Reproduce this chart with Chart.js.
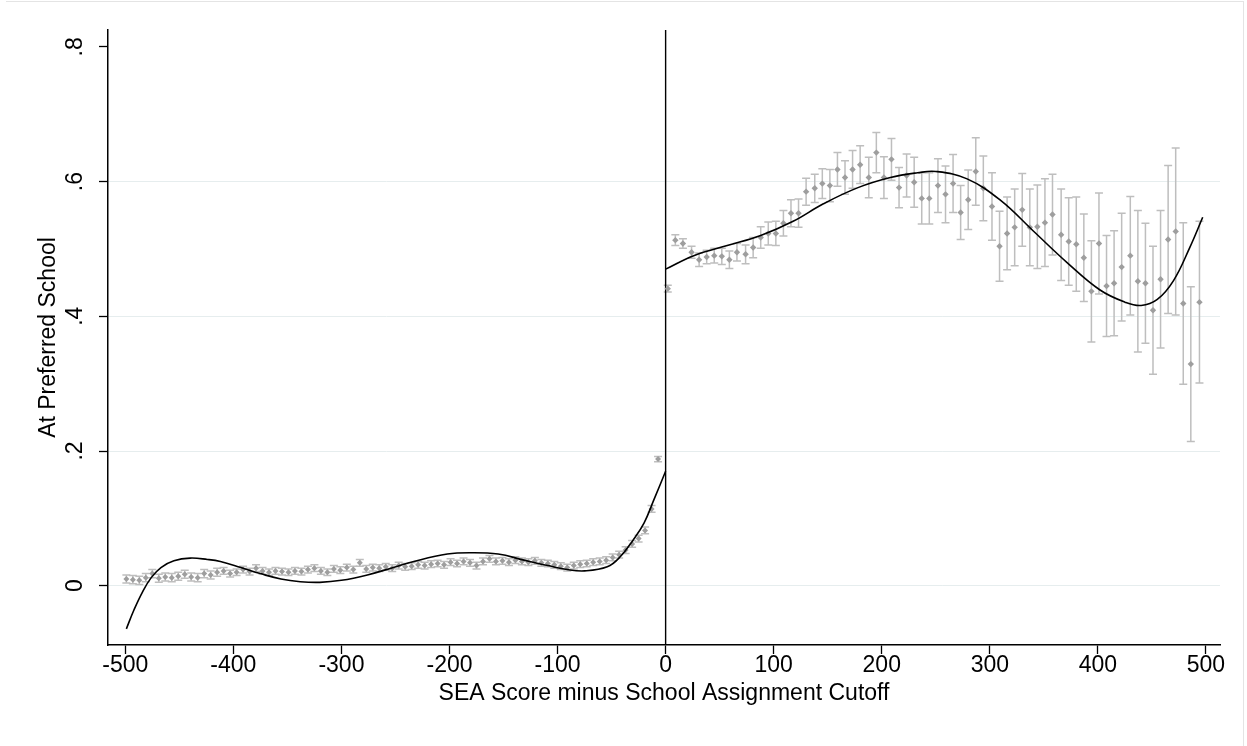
<!DOCTYPE html>
<html>
<head>
<meta charset="utf-8">
<title>At Preferred School</title>
<script src="https://cdn.jsdelivr.net/npm/chart.js@4.4.1/dist/chart.umd.min.js"></script>
<style>
    html, body { margin: 0; padding: 0; background: #fff; }
    #wrap { position: relative; width: 1247px; height: 746px; }
    #frame { position: absolute; left: 6px; top: 1px; right: 3px; bottom: 0; border-top: 1px solid #e4e4e4; border-right: 1px solid #e4e4e4; pointer-events: none; }
</style>
</head>
<body>
<div id="wrap">
    <canvas id="chart" width="1247" height="746"></canvas>
    <div id="frame"></div>
</div>
<script>
// bins left of the cutoff
const leftX = [-499, -493, -487, -481, -475, -469, -463, -457, -451, -445,
    -439, -433, -427, -421, -415, -409, -403, -397, -391, -385,
    -379, -373, -367, -361, -355, -349, -343, -337, -331, -325,
    -319, -313, -307, -301, -295, -289, -283, -277, -271, -265,
    -259, -253, -247, -241, -235, -229, -223, -217, -211, -205,
    -199, -193, -187, -181, -175, -169, -163, -157, -151, -145,
    -139, -133, -127, -121, -115, -109, -103, -97, -91, -85,
    -79, -73, -67, -61, -55, -49, -43, -37, -31, -25,
    -19, -13, -7];
const leftY = [0.010, 0.009, 0.008, 0.012, 0.018, 0.011, 0.013, 0.012, 0.014, 0.017,
    0.013, 0.012, 0.018, 0.016, 0.020, 0.022, 0.018, 0.020, 0.024, 0.021,
    0.026, 0.022, 0.020, 0.022, 0.021, 0.020, 0.022, 0.021, 0.024, 0.026,
    0.022, 0.020, 0.025, 0.023, 0.027, 0.024, 0.034, 0.025, 0.027, 0.026,
    0.028, 0.026, 0.030, 0.028, 0.029, 0.031, 0.030, 0.032, 0.033, 0.031,
    0.035, 0.033, 0.036, 0.034, 0.030, 0.036, 0.040, 0.036, 0.037, 0.035,
    0.038, 0.036, 0.035, 0.037, 0.034, 0.033, 0.031, 0.029, 0.027, 0.030,
    0.032, 0.033, 0.035, 0.036, 0.038, 0.042, 0.046, 0.053, 0.062, 0.070,
    0.082, 0.114, 0.188];
const leftErr = [0.006, 0.006, 0.006, 0.006, 0.006, 0.006, 0.006, 0.006, 0.006, 0.006,
    0.006, 0.006, 0.006, 0.006, 0.006, 0.005, 0.005, 0.005, 0.005, 0.005,
    0.005, 0.005, 0.005, 0.005, 0.005, 0.005, 0.005, 0.005, 0.005, 0.005,
    0.005, 0.005, 0.005, 0.005, 0.005, 0.005, 0.005, 0.005, 0.005, 0.005,
    0.005, 0.005, 0.005, 0.005, 0.005, 0.005, 0.005, 0.005, 0.005, 0.005,
    0.005, 0.005, 0.005, 0.005, 0.005, 0.005, 0.005, 0.005, 0.005, 0.005,
    0.005, 0.005, 0.005, 0.005, 0.005, 0.005, 0.005, 0.005, 0.005, 0.005,
    0.005, 0.005, 0.005, 0.005, 0.005, 0.005, 0.005, 0.005, 0.005, 0.005,
    0.005, 0.005, 0.004];

// bins right of the cutoff
const rightX = [2, 9, 16, 24, 31, 38, 45, 52, 59, 66,
    74, 81, 88, 95, 102, 109, 116, 123, 130, 138,
    145, 152, 159, 166, 173, 180, 188, 195, 202, 209,
    216, 223, 230, 237, 244, 252, 259, 266, 273, 280,
    287, 294, 302, 309, 316, 323, 330, 337, 344, 351,
    358, 366, 373, 380, 387, 394, 401, 408, 415, 422,
    430, 437, 444, 451, 458, 465, 472, 479, 486, 494];
const rightY = [0.441, 0.513, 0.508, 0.495, 0.484, 0.488, 0.490, 0.489, 0.484, 0.495,
    0.492, 0.502, 0.517, 0.523, 0.523, 0.538, 0.553, 0.553, 0.585, 0.590,
    0.597, 0.594, 0.618, 0.606, 0.618, 0.625, 0.606, 0.643, 0.606, 0.633,
    0.591, 0.609, 0.599, 0.575, 0.575, 0.594, 0.581, 0.597, 0.554, 0.573,
    0.615, 0.590, 0.563, 0.504, 0.523, 0.532, 0.558, 0.532, 0.533, 0.539,
    0.551, 0.521, 0.511, 0.507, 0.487, 0.437, 0.508, 0.445, 0.449, 0.473,
    0.490, 0.452, 0.449, 0.409, 0.455, 0.514, 0.526, 0.419, 0.329, 0.421];
const rightErr = [0.005, 0.008, 0.007, 0.009, 0.010, 0.010, 0.011, 0.012, 0.013, 0.013,
    0.014, 0.015, 0.016, 0.017, 0.018, 0.019, 0.020, 0.021, 0.020, 0.021,
    0.022, 0.024, 0.025, 0.025, 0.028, 0.028, 0.030, 0.030, 0.031, 0.031,
    0.030, 0.032, 0.037, 0.038, 0.038, 0.040, 0.042, 0.043, 0.040, 0.044,
    0.050, 0.048, 0.050, 0.052, 0.054, 0.057, 0.054, 0.057, 0.062, 0.065,
    0.060, 0.068, 0.065, 0.070, 0.065, 0.075, 0.075, 0.075, 0.078, 0.080,
    0.088, 0.105, 0.089, 0.095, 0.102, 0.110, 0.124, 0.120, 0.115, 0.120];

// fitted polynomial
const leftFitX = [-499, -492, -484, -476, -467, -455, -440, -424, -412, -393,
    -375, -356, -338, -320, -300, -276, -252, -233, -202, -180,
    -155, -131, -109, -91, -75, -54, -42, -30, -20, -11, 0];
const leftFitY = [-0.064, -0.036, -0.009, 0.012, 0.027, 0.037, 0.041, 0.039, 0.036, 0.027,
    0.018, 0.010, 0.006, 0.005, 0.008, 0.016, 0.027, 0.036, 0.047, 0.049,
    0.047, 0.038, 0.030, 0.024, 0.022, 0.028, 0.043, 0.068, 0.093, 0.127, 0.170];
const rightFitX = [0, 26, 57, 88, 118, 146, 178, 208, 233, 250, 279, 310, 340, 372, 402, 425, 440, 455, 470, 485, 497];
const rightFitY = [0.470, 0.490, 0.505, 0.520, 0.541, 0.567, 0.591, 0.606, 0.613, 0.615, 0.604, 0.572, 0.527, 0.479, 0.439, 0.421, 0.416, 0.425, 0.453, 0.502, 0.547];

const xTicks = [-500, -400, -300, -200, -100, 0, 100, 200, 300, 400, 500];
const yTicks = [0, 0.2, 0.4, 0.6, 0.8];
const yTickLabels = ["0", ".2", ".4", ".6", ".8"];

const FONT = "'Liberation Sans', Arial, sans-serif";

function toPoints(xs, ys) {
    return xs.map((x, i) => ({ x: x, y: ys[i] }));
}

function drawBars(ctx, sx, sy, xs, ys, errs) {
    xs.forEach((x, i) => {
        const px = sx.getPixelForValue(x);
        const top = sy.getPixelForValue(ys[i] + errs[i]);
        const bot = sy.getPixelForValue(ys[i] - errs[i]);
        ctx.beginPath();
        ctx.moveTo(px, top);
        ctx.lineTo(px, bot);
        ctx.moveTo(px - 4, top);
        ctx.lineTo(px + 4, top);
        ctx.moveTo(px - 4, bot);
        ctx.lineTo(px + 4, bot);
        ctx.stroke();
    });
}

const rdPlugin = {
    id: "rdPlugin",
    beforeDatasetsDraw(chart) {
        const ctx = chart.ctx;
        const sx = chart.scales.x, sy = chart.scales.y;
        ctx.save();
        ctx.strokeStyle = "#bebebe";
        ctx.lineWidth = 1.5;
        drawBars(ctx, sx, sy, leftX, leftY, leftErr);
        drawBars(ctx, sx, sy, rightX, rightY, rightErr);
        // cutoff line
        const cx = sx.getPixelForValue(0);
        ctx.strokeStyle = "#000";
        ctx.lineWidth = 1.4;
        ctx.beginPath();
        ctx.moveTo(cx, chart.chartArea.top);
        ctx.lineTo(cx, chart.chartArea.bottom);
        ctx.stroke();
        ctx.restore();
    },
    afterDraw(chart) {
        // stata style vertical y labels
        const ctx = chart.ctx;
        const sy = chart.scales.y;
        ctx.save();
        ctx.fillStyle = "#000";
        ctx.font = "23px " + FONT;
        ctx.textAlign = "center";
        ctx.textBaseline = "middle";
        yTicks.forEach((v, i) => {
            ctx.save();
            ctx.translate(76, sy.getPixelForValue(v));
            ctx.rotate(-Math.PI / 2);
            ctx.fillText(yTickLabels[i], 0, 0);
            ctx.restore();
        });
        ctx.restore();
    }
};

document.addEventListener("DOMContentLoaded", function() {
    const ctx = document.getElementById("chart");
    new Chart(ctx, {
        type: "scatter",
        data: {
            datasets: [
                {
                    type: "line",
                    data: toPoints(leftFitX, leftFitY),
                    borderColor: "#000",
                    borderWidth: 1.6,
                    pointRadius: 0,
                    tension: 0.4,
                    order: 0
                },
                {
                    type: "line",
                    data: toPoints(rightFitX, rightFitY),
                    borderColor: "#000",
                    borderWidth: 1.6,
                    pointRadius: 0,
                    tension: 0.4,
                    order: 0
                },
                {
                    data: toPoints(leftX, leftY),
                    pointStyle: "rectRot",
                    pointRadius: 3,
                    backgroundColor: "#9e9e9e",
                    borderWidth: 0,
                    order: 1
                },
                {
                    data: toPoints(rightX, rightY),
                    pointStyle: "rectRot",
                    pointRadius: 3.2,
                    backgroundColor: "#9e9e9e",
                    borderWidth: 0,
                    order: 1
                }
            ]
        },
        options: {
            responsive: false,
            devicePixelRatio: 1,
            animation: false,
            layout: { padding: { left: 0, right: 27, top: 30, bottom: 0 } },
            plugins: { legend: { display: false }, tooltip: { enabled: false } },
            scales: {
                x: {
                    type: "linear",
                    min: -516,
                    max: 513,
                    afterBuildTicks: s => { s.ticks = xTicks.map(v => ({ value: v })); },
                    afterFit: s => { s.height = 101; },
                    border: { color: "#000", width: 1.5 },
                    grid: { drawOnChartArea: false, drawTicks: true, tickLength: 9, tickColor: "#000", tickWidth: 1.3 },
                    ticks: { color: "#000", padding: 0, maxRotation: 0, font: { family: FONT, size: 23, lineHeight: 1 } },
                    title: {
                        display: true,
                        text: "SEA Score minus School Assignment Cutoff",
                        color: "#000",
                        font: { family: FONT, size: 23, lineHeight: 1.2 },
                        padding: { top: 0, bottom: 39 }
                    }
                },
                y: {
                    type: "linear",
                    min: -0.088,
                    max: 0.825,
                    afterBuildTicks: s => { s.ticks = yTicks.map(v => ({ value: v })); },
                    afterFit: s => { s.width = 108; },
                    border: { color: "#000", width: 1.5 },
                    grid: {
                        color: c => (c.tick && c.tick.value > 0.7 ? "rgba(0,0,0,0)" : "#e6edee"),
                        lineWidth: 1,
                        drawTicks: true,
                        tickLength: 9,
                        tickColor: "#000",
                        tickWidth: 1.3
                    },
                    ticks: { display: false },
                    title: {
                        display: true,
                        text: "At Preferred School",
                        color: "#000",
                        font: { family: FONT, size: 23, lineHeight: 1.2 },
                        padding: { top: 35, bottom: 0 }
                    }
                }
            }
        },
        plugins: [rdPlugin]
    });
});
</script>
</body>
</html>
